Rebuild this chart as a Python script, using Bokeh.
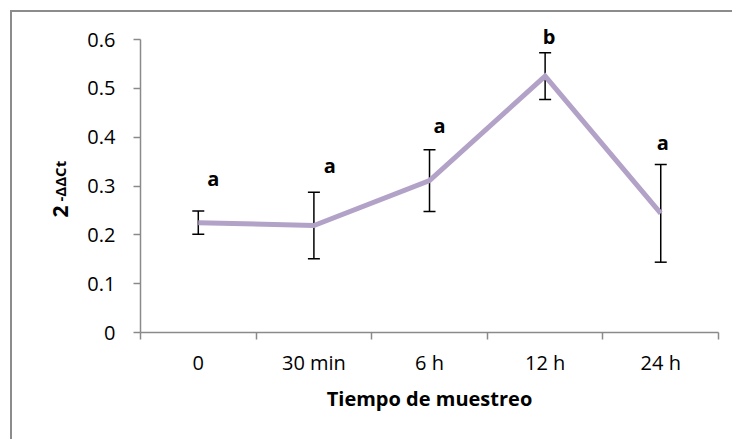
from math import pi
from bokeh.plotting import figure
from bokeh.models import Range1d, FixedTicker, Whisker, TeeHead, ColumnDataSource, Label
from bokeh.core.properties import value
from bokeh.embed import file_html
from bokeh.resources import INLINE

# ---- data ----
categories = ["0", "30 min", "6 h", "12 h", "24 h"]
means = [0.225, 0.219, 0.311, 0.525, 0.244]
errors = [0.024, 0.068, 0.063, 0.048, 0.100]
letters = ["a", "a", "a", "b", "a"]
letter_y = [0.316, 0.341, 0.423, 0.607, 0.390]
letter_dx = [15, 16, 10, 4, 2]
y_ticks = [0, 0.1, 0.2, 0.3, 0.4, 0.5, 0.6]
y_tick_labels = ["0", "0.1", "0.2", "0.3", "0.4", "0.5", "0.6"]
x_title = "Tiempo de muestreo"

n = len(categories)
xs = [i + 0.5 for i in range(n)]
src = ColumnDataSource(dict(
    x=xs, y=means,
    upper=[m + e for m, e in zip(means, errors)],
    lower=[m - e for m, e in zip(means, errors)],
    letter=letters, ly=letter_y, dx=letter_dx,
))

FONT = "Open Sans"
AX = "#8a8a8a"

# frame covers the whole canvas; axes are pinned inside it with fixed_location
p = figure(width=722, height=429,
           x_range=Range1d(-1.107, n + 0.138), y_range=Range1d(-0.2232, 0.6553),
           output_backend="svg", toolbar_location=None,
           min_border_left=0, min_border_right=0, min_border_top=0, min_border_bottom=0)
p.styles = {"margin-top": "10px", "margin-left": "10px",
            "border-top": "2px solid #8c8c8c", "border-left": "2px solid #8c8c8c"}
p.grid.visible = False
p.outline_line_color = None
p.background_fill_color = "white"
p.border_fill_color = "white"

# x axis
xa = p.xaxis[0]
xa.fixed_location = 0
xa.bounds = (0, n)
xa.ticker = FixedTicker(ticks=xs, minor_ticks=list(range(n + 1)))
xa.major_label_overrides = {x: c for x, c in zip(xs, categories)}
xa.major_tick_line_color = None
xa.major_tick_out = 7
xa.major_tick_in = 0
xa.minor_tick_out = 7
xa.minor_tick_in = 0
xa.minor_tick_line_color = AX
xa.minor_tick_line_width = 1.5
xa.axis_line_color = AX
xa.axis_line_width = 1.5
xa.major_label_text_font = FONT
xa.major_label_text_font_size = "20px"
xa.major_label_text_color = "black"
xa.major_label_standoff = 9
xa.axis_label = x_title
xa.axis_label_text_font = FONT
xa.axis_label_text_font_size = "20px"
xa.axis_label_text_font_style = "bold"
xa.axis_label_text_color = "black"
xa.axis_label_standoff = 6

# y axis
ya = p.yaxis[0]
ya.fixed_location = 0
ya.bounds = (0, 0.6)
ya.ticker = FixedTicker(ticks=y_ticks, minor_ticks=[])
ya.major_label_overrides = {t: s for t, s in zip(y_ticks, y_tick_labels)}
ya.major_tick_out = 7
ya.major_tick_in = 0
ya.major_tick_line_color = AX
ya.major_tick_line_width = 1.5
ya.minor_tick_line_color = None
ya.axis_line_color = AX
ya.axis_line_width = 1.5
ya.major_label_text_font = FONT
ya.major_label_text_font_size = "20px"
ya.major_label_text_color = "black"
ya.major_label_standoff = 18

# line
p.line("x", "y", source=src, line_color="#B3A2C7", line_width=5, line_join="miter")

# error bars
w = Whisker(source=src, base="x", upper="upper", lower="lower", dimension="height",
            line_color="black", line_width=1.5,
            upper_head=TeeHead(size=12, line_color="black", line_width=1.5),
            lower_head=TeeHead(size=12, line_color="black", line_width=1.5))
p.add_layout(w)

# significance letters
p.text("x", "ly", text="letter", source=src, x_offset="dx",
       text_font=value(FONT), text_font_style="bold", text_font_size="20px",
       text_align="center", text_baseline="alphabetic", text_color="black")

# y axis title: 2^-ΔΔCt
p.add_layout(Label(x=0, y=0.2355, x_offset=-80, text="2",
                   angle=pi / 2, text_font=FONT, text_font_style="bold", text_font_size="21px",
                   text_align="left", text_baseline="alphabetic", text_color="black"))
p.add_layout(Label(x=0, y=0.2683, x_offset=-80, text="-ΔΔCt",
                   angle=pi / 2, text_font=FONT, text_font_style="bold", text_font_size="15px",
                   text_align="left", text_baseline="alphabetic", text_color="black"))

open("out.html", "w").write(file_html(p, INLINE))
